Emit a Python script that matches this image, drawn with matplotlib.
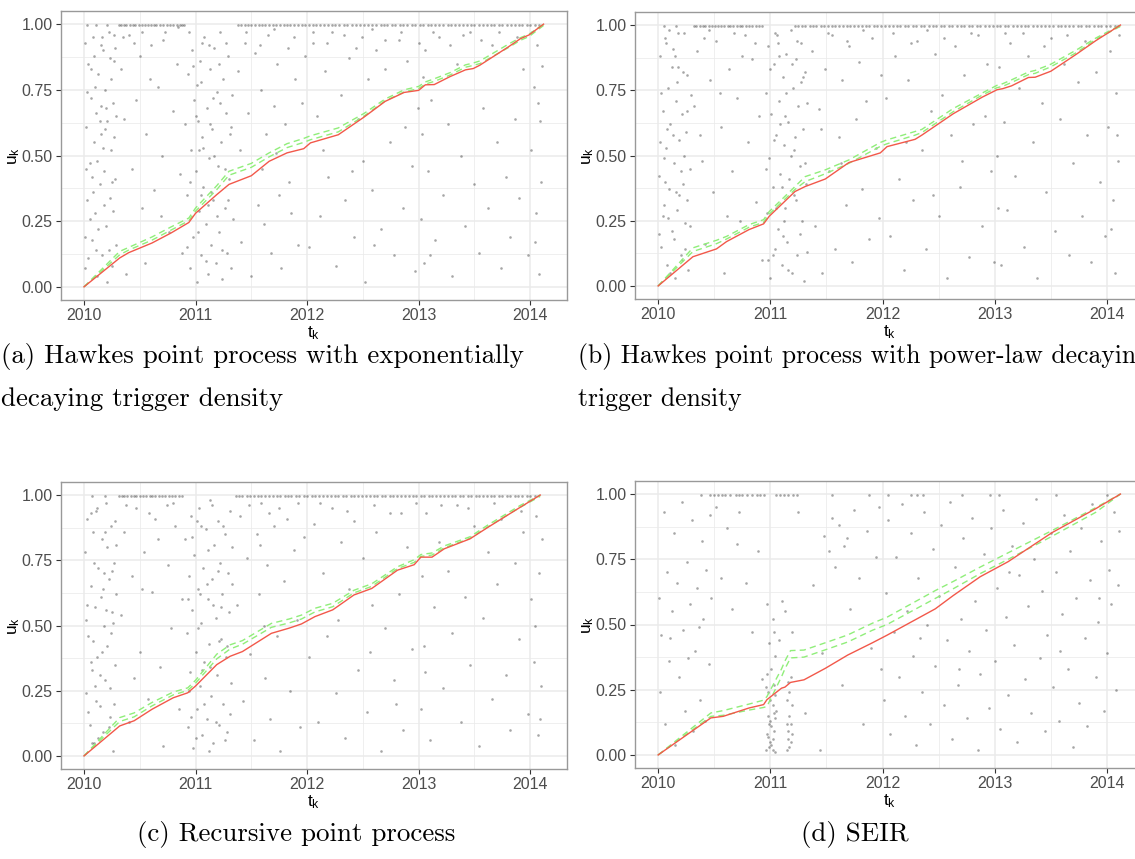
import numpy as np
import matplotlib
matplotlib.use("Agg")
import matplotlib.pyplot as plt

plt.rcParams['font.family'] = ['Liberation Sans', 'DejaVu Sans']
plt.rcParams['mathtext.fontset'] = 'custom'
plt.rcParams['mathtext.rm'] = 'Liberation Sans'
plt.rcParams['mathtext.it'] = 'Liberation Sans:italic'

# ---- red line (empirical) and green dashed band, per panel ----
knots_a = [2010.0, 2010.32, 2010.40, 2010.61, 2010.78, 2010.94, 2011.0, 2011.19, 2011.30, 2011.50, 2011.66,
           2011.82, 2011.97, 2012.03, 2012.28, 2012.51, 2012.70, 2012.87, 2013.0, 2013.06, 2013.14, 2013.28,
           2013.42, 2013.49, 2013.55, 2013.81, 2013.91, 2013.99, 2014.12]
red_a = [0.0, 0.11, 0.13, 0.167, 0.205, 0.245, 0.28, 0.351, 0.39, 0.423, 0.478,
         0.51, 0.526, 0.548, 0.579, 0.646, 0.706, 0.74, 0.748, 0.769, 0.77, 0.80,
         0.826, 0.831, 0.844, 0.915, 0.944, 0.959, 1.0]
hi_a = [0.0, 0.135, 0.15, 0.19, 0.228, 0.262, 0.30, 0.385, 0.44, 0.47, 0.51,
        0.545, 0.565, 0.575, 0.605, 0.66, 0.715, 0.75, 0.763, 0.78, 0.792, 0.815,
        0.845, 0.852, 0.86, 0.925, 0.948, 0.962, 1.0]
lo_a = [0.0, 0.122, 0.14, 0.178, 0.216, 0.252, 0.288, 0.37, 0.425, 0.455, 0.495,
        0.53, 0.55, 0.56, 0.59, 0.65, 0.708, 0.742, 0.755, 0.772, 0.782, 0.806,
        0.836, 0.843, 0.85, 0.912, 0.938, 0.953, 0.995]

knots_b = [2010.0, 2010.31, 2010.52, 2010.61, 2010.81, 2010.94, 2010.99, 2011.22, 2011.31, 2011.49, 2011.70,
           2011.98, 2012.04, 2012.29, 2012.35, 2012.63, 2012.89, 2013.02, 2013.07, 2013.15, 2013.30, 2013.36,
           2013.50, 2013.73, 2013.90, 2014.12]
red_b = [0.0, 0.112, 0.142, 0.17, 0.216, 0.238, 0.267, 0.362, 0.381, 0.41, 0.473,
         0.51, 0.534, 0.562, 0.578, 0.66, 0.724, 0.752, 0.756, 0.767, 0.799, 0.80,
         0.823, 0.889, 0.94, 1.0]
hi_b = [0.0, 0.146, 0.175, 0.19, 0.235, 0.254, 0.285, 0.381, 0.419, 0.445, 0.483,
        0.55, 0.56, 0.592, 0.60, 0.68, 0.74, 0.769, 0.775, 0.79, 0.82, 0.826,
        0.85, 0.905, 0.95, 1.0]
lo_b = [0.0, 0.132, 0.162, 0.18, 0.225, 0.244, 0.275, 0.37, 0.40, 0.43, 0.47,
        0.535, 0.545, 0.578, 0.588, 0.668, 0.732, 0.76, 0.765, 0.78, 0.81, 0.815,
        0.84, 0.895, 0.945, 0.995]

knots_c = [2010.0, 2010.32, 2010.45, 2010.61, 2010.80, 2010.93, 2011.0, 2011.19, 2011.31, 2011.42, 2011.68,
           2011.84, 2011.95, 2012.07, 2012.23, 2012.42, 2012.58, 2012.81, 2012.96, 2013.02, 2013.12, 2013.23,
           2013.46, 2013.62, 2013.91, 2014.09]
red_c = [0.0, 0.115, 0.135, 0.179, 0.223, 0.242, 0.268, 0.35, 0.382, 0.40, 0.47,
         0.49, 0.506, 0.534, 0.56, 0.617, 0.642, 0.712, 0.733, 0.762, 0.762, 0.794,
         0.832, 0.876, 0.953, 1.0]
hi_c = [0.0, 0.147, 0.165, 0.205, 0.245, 0.261, 0.29, 0.39, 0.426, 0.442, 0.508,
        0.525, 0.54, 0.566, 0.585, 0.635, 0.66, 0.725, 0.752, 0.772, 0.778, 0.805,
        0.84, 0.885, 0.96, 1.0]
lo_c = [0.0, 0.132, 0.15, 0.192, 0.234, 0.251, 0.279, 0.372, 0.41, 0.428, 0.493,
        0.51, 0.525, 0.552, 0.572, 0.625, 0.65, 0.718, 0.742, 0.765, 0.77, 0.798,
        0.834, 0.878, 0.953, 0.995]

knots_d = [2010.0, 2010.47, 2010.58, 2010.81, 2010.94, 2010.97, 2011.10, 2011.13, 2011.18, 2011.30, 2011.49,
           2011.69, 2011.91, 2012.04, 2012.47, 2012.63, 2012.87, 2013.12, 2013.51, 2013.90, 2014.12]
red_d = [0.0, 0.142, 0.148, 0.18, 0.193, 0.212, 0.256, 0.26, 0.278, 0.288, 0.332,
         0.383, 0.43, 0.459, 0.56, 0.611, 0.683, 0.741, 0.852, 0.944, 1.0]
hi_d = [0.0, 0.161, 0.17, 0.195, 0.21, 0.224, 0.33, 0.36, 0.40, 0.402, 0.43,
        0.46, 0.505, 0.528, 0.63, 0.665, 0.72, 0.775, 0.86, 0.948, 1.0]
lo_d = [0.0, 0.148, 0.152, 0.172, 0.182, 0.186, 0.30, 0.33, 0.372, 0.375, 0.403,
        0.433, 0.478, 0.50, 0.60, 0.637, 0.695, 0.75, 0.838, 0.93, 1.0]

# ---- scattered (t_k, u_k) points ----
pts_a = [
    (2010.01, 0.93), (2010.02, 0.61), (2010.03, 0.33), (2010.01, 0.07), (2010.04, 0.85), (2010.05, 0.47),
    (2010.06, 0.72), (2010.07, 0.18), (2010.08, 0.95), (2010.09, 0.55), (2010.10, 0.28), (2010.11, 0.66),
    (2010.12, 0.04), (2010.13, 0.81), (2010.14, 0.39), (2010.15, 0.58), (2010.16, 0.12), (2010.17, 0.90),
    (2010.18, 0.44), (2010.19, 0.75), (2010.20, 0.23), (2010.21, 0.63), (2010.22, 0.97), (2010.23, 0.34),
    (2010.24, 0.52), (2010.25, 0.08), (2010.26, 0.70), (2010.27, 0.86), (2010.28, 0.41), (2010.29, 0.16),
    (2010.05, 0.26), (2010.12, 0.48), (2010.18, 0.31), (2010.24, 0.79), (2010.09, 0.88), (2010.15, 0.69),
    (2010.21, 0.02), (2010.27, 0.57), (2010.03, 0.74), (2010.16, 0.95), (2010.26, 0.29), (2010.07, 0.42),
    (2010.19, 0.60), (2010.11, 0.14), (2010.28, 0.91),
    (2010.02, 0.45), (2010.04, 0.11), (2010.06, 0.83), (2010.08, 0.36), (2010.10, 0.76), (2010.13, 0.22),
    (2010.15, 0.92), (2010.17, 0.53), (2010.20, 0.68), (2010.22, 0.14), (2010.25, 0.40), (2010.27, 0.96),
    (2010.29, 0.65), (2010.01, 0.19), (2010.14, 0.63), (2010.23, 0.87),
    (2010.33, 0.83), (2010.36, 0.64), (2010.40, 0.96), (2010.43, 0.45), (2010.47, 0.71), (2010.50, 0.88),
    (2010.52, 0.30), (2010.56, 0.58), (2010.60, 0.92), (2010.63, 0.37), (2010.66, 0.76), (2010.70, 0.50),
    (2010.73, 0.97), (2010.76, 0.21), (2010.80, 0.67), (2010.83, 0.85), (2010.86, 0.43), (2010.88, 0.13),
    (2010.38, 0.05), (2010.55, 0.09), (2010.69, 0.27), (2010.84, 0.99), (2010.45, 0.93), (2010.59, 0.79),
    (2010.35, 0.95), (2010.52, 0.97), (2010.71, 0.94),
    (2010.91, 0.62), (2010.92, 0.35), (2010.93, 0.81), (2010.95, 0.07), (2010.96, 0.52), (2010.97, 0.90),
    (2010.98, 0.19), (2010.99, 0.71), (2011.00, 0.44), (2011.01, 0.02), (2011.02, 0.63), (2011.03, 0.29),
    (2011.04, 0.86), (2011.05, 0.12), (2011.06, 0.57), (2011.07, 0.38), (2011.08, 0.95), (2011.09, 0.24),
    (2011.10, 0.68), (2011.11, 0.05), (2011.12, 0.49), (2011.13, 0.83), (2011.14, 0.16), (2011.15, 0.60),
    (2011.16, 0.33), (2011.17, 0.91), (2011.18, 0.09), (2011.19, 0.74), (2011.20, 0.46), (2011.21, 0.21),
    (2011.22, 0.97), (2011.23, 0.55), (2011.24, 0.03), (2011.25, 0.79), (2011.26, 0.30), (2011.27, 0.66),
    (2011.28, 0.13), (2011.29, 0.88), (2011.30, 0.41), (2011.31, 0.58), (2011.32, 0.07), (2011.33, 0.73),
    (2011.34, 0.26), (2010.94, 0.97), (2011.01, 0.77), (2011.06, 0.93), (2011.11, 0.31), (2011.16, 0.72),
    (2011.21, 0.85), (2011.26, 0.45), (2011.03, 0.52), (2011.13, 0.62),
    (2010.92, 0.15), (2010.95, 0.40), (2010.98, 0.84), (2011.00, 0.65), (2011.02, 0.21), (2011.05, 0.78),
    (2011.07, 0.53), (2011.09, 0.10), (2011.12, 0.92), (2011.14, 0.36), (2011.17, 0.50), (2011.19, 0.27),
    (2011.22, 0.70), (2011.24, 0.14), (2011.27, 0.93), (2011.29, 0.33), (2011.32, 0.61), (2011.05, 0.35),
    (2011.38, 0.82), (2011.41, 0.17), (2011.44, 0.93), (2011.47, 0.66), (2011.50, 0.04), (2011.53, 0.89),
    (2011.56, 0.31), (2011.59, 0.75), (2011.61, 0.24), (2011.63, 0.58), (2011.65, 0.96), (2011.68, 0.13),
    (2011.70, 0.69), (2011.73, 0.85), (2011.75, 0.35), (2011.77, 0.07), (2011.80, 0.62), (2011.83, 0.91),
    (2011.86, 0.28), (2011.89, 0.79), (2011.92, 0.16), (2011.95, 0.70), (2011.98, 0.88), (2011.60, 0.45),
    (2011.72, 0.51), (2011.40, 0.52), (2011.84, 0.40), (2011.45, 0.97), (2011.58, 0.92), (2011.70, 0.98),
    (2011.88, 0.95),
    (2012.02, 0.15), (2012.05, 0.93), (2012.09, 0.65), (2012.12, 0.27), (2012.16, 0.82), (2012.19, 0.42),
    (2012.22, 0.97), (2012.26, 0.08), (2012.30, 0.73), (2012.34, 0.33), (2012.38, 0.87), (2012.42, 0.19),
    (2012.46, 0.64), (2012.49, 0.95), (2012.50, 0.48), (2012.52, 0.02), (2012.55, 0.79), (2012.58, 0.37),
    (2012.62, 0.90), (2012.66, 0.22), (2012.70, 0.83), (2012.74, 0.55), (2012.78, 0.12), (2012.82, 0.94),
    (2012.86, 0.30), (2012.90, 0.86), (2012.94, 0.46), (2012.97, 0.06), (2012.99, 0.68), (2012.14, 0.52),
    (2012.40, 0.44), (2012.60, 0.16), (2012.88, 0.61), (2012.05, 0.97), (2012.18, 0.93), (2012.33, 0.96),
    (2012.44, 0.91), (2012.58, 0.98), (2012.70, 0.94), (2012.84, 0.97),
    (2013.02, 0.26), (2013.03, 0.58), (2013.05, 0.09), (2013.06, 0.90), (2013.08, 0.44), (2013.11, 0.71),
    (2013.15, 0.18), (2013.18, 0.95), (2013.22, 0.35), (2013.26, 0.62), (2013.30, 0.04), (2013.34, 0.85),
    (2013.38, 0.50), (2013.42, 0.23), (2013.46, 0.97), (2013.50, 0.39), (2013.54, 0.13), (2013.58, 0.68),
    (2013.62, 0.30), (2013.66, 0.92), (2013.70, 0.55), (2013.74, 0.07), (2013.78, 0.42), (2013.82, 0.19),
    (2013.86, 0.64), (2013.90, 0.34), (2013.94, 0.83), (2013.98, 0.12), (2014.01, 0.52), (2014.03, 0.76),
    (2014.05, 0.28), (2014.06, 0.92), (2014.08, 0.05), (2014.09, 0.63), (2014.10, 0.40), (2014.11, 0.84),
    (2014.04, 0.17), (2014.07, 0.70), (2013.04, 0.80), (2013.10, 0.12), (2013.00, 0.93), (2013.13, 0.97),
    (2013.28, 0.92), (2013.40, 0.96), (2013.56, 0.94), (2013.72, 0.97), (2013.88, 0.95), (2014.02, 0.97),
]
top_a = [2010.03, 2010.11, 2010.21, 2010.31, 2010.33, 2010.36, 2010.38, 2010.41, 2010.44, 2010.46, 2010.49,
         2010.52, 2010.55, 2010.57, 2010.60, 2010.63, 2010.65, 2010.68, 2010.71, 2010.74, 2010.77, 2010.80,
         2010.83, 2010.86, 2010.88, 2010.90, 2011.38, 2011.41, 2011.44, 2011.47, 2011.50, 2011.53, 2011.57,
         2011.60, 2011.62, 2011.66, 2011.69, 2011.72, 2011.76, 2011.79, 2011.82, 2011.85, 2011.88, 2011.92,
         2011.95, 2011.98, 2012.02, 2012.05, 2012.08, 2012.12, 2012.15, 2012.19, 2012.22, 2012.25, 2012.29,
         2012.33, 2012.36, 2012.40, 2012.44, 2012.47, 2012.51, 2012.55, 2012.58, 2012.62, 2012.66, 2012.69,
         2012.72, 2012.76, 2012.79, 2012.83, 2012.86, 2012.90, 2012.94, 2012.97, 2013.01, 2013.04, 2013.08,
         2013.11, 2013.15, 2013.18, 2013.22, 2013.26, 2013.29, 2013.33, 2013.36, 2013.40, 2013.43, 2013.47,
         2013.50, 2013.54, 2013.58, 2013.61, 2013.65, 2013.68, 2013.72, 2013.75, 2013.79, 2013.83, 2013.86,
         2013.90, 2013.93, 2013.97, 2014.00, 2014.04, 2014.08]

pts_b = [
    (2010.01, 0.42), (2010.02, 0.88), (2010.03, 0.15), (2010.04, 0.67), (2010.05, 0.31), (2010.06, 0.95),
    (2010.07, 0.53), (2010.08, 0.08), (2010.09, 0.76), (2010.10, 0.37), (2010.11, 0.62), (2010.12, 0.21),
    (2010.13, 0.91), (2010.14, 0.47), (2010.15, 0.03), (2010.16, 0.71), (2010.17, 0.29), (2010.18, 0.84),
    (2010.19, 0.56), (2010.20, 0.12), (2010.21, 0.66), (2010.22, 0.39), (2010.23, 0.97), (2010.24, 0.24),
    (2010.25, 0.59), (2010.26, 0.81), (2010.27, 0.06), (2010.28, 0.45), (2010.29, 0.73), (2010.04, 0.27),
    (2010.10, 0.98), (2010.14, 0.18), (2010.19, 0.35), (2010.23, 0.50), (2010.08, 0.60), (2010.17, 0.78),
    (2010.26, 0.33), (2010.02, 0.55), (2010.12, 0.84), (2010.21, 0.10),
    (2010.01, 0.20), (2010.03, 0.74), (2010.05, 0.49), (2010.07, 0.93), (2010.09, 0.26), (2010.11, 0.05),
    (2010.13, 0.58), (2010.16, 0.36), (2010.18, 0.97), (2010.20, 0.44), (2010.22, 0.82), (2010.24, 0.14),
    (2010.26, 0.67), (2010.28, 0.23), (2010.06, 0.40), (2010.15, 0.88),
    (2010.32, 0.69), (2010.35, 0.90), (2010.39, 0.48), (2010.42, 0.16), (2010.46, 0.79), (2010.49, 0.36),
    (2010.52, 0.94), (2010.56, 0.61), (2010.59, 0.05), (2010.63, 0.83), (2010.66, 0.44), (2010.70, 0.72),
    (2010.73, 0.25), (2010.77, 0.96), (2010.80, 0.55), (2010.84, 0.87), (2010.87, 0.32), (2010.90, 0.65),
    (2010.93, 0.10), (2010.37, 0.58), (2010.61, 0.27), (2010.75, 0.88), (2010.45, 0.98), (2010.55, 0.74),
    (2010.41, 0.95), (2010.68, 0.97), (2010.86, 0.93),
    (2010.96, 0.74), (2010.97, 0.28), (2010.98, 0.92), (2010.99, 0.49), (2011.00, 0.03), (2011.01, 0.66),
    (2011.02, 0.38), (2011.03, 0.85), (2011.04, 0.14), (2011.05, 0.58), (2011.06, 0.96), (2011.07, 0.22),
    (2011.08, 0.71), (2011.09, 0.43), (2011.10, 0.08), (2011.11, 0.80), (2011.12, 0.54), (2011.13, 0.30),
    (2011.14, 0.89), (2011.15, 0.17), (2011.16, 0.63), (2011.17, 0.41), (2011.18, 0.98), (2011.19, 0.05),
    (2011.20, 0.76), (2011.21, 0.35), (2011.22, 0.57), (2011.23, 0.87), (2011.24, 0.12), (2011.25, 0.69),
    (2011.26, 0.46), (2011.27, 0.93), (2011.28, 0.25), (2011.29, 0.60), (2011.30, 0.02), (2011.31, 0.82),
    (2011.32, 0.39), (2011.33, 0.70), (2011.02, 0.12), (2011.08, 0.88), (2011.13, 0.65), (2011.18, 0.50),
    (2011.23, 0.33), (2011.04, 0.97), (2011.11, 0.19), (2011.27, 0.78),
    (2010.96, 0.45), (2010.98, 0.10), (2011.00, 0.83), (2011.03, 0.56), (2011.05, 0.30), (2011.07, 0.93),
    (2011.09, 0.62), (2011.12, 0.25), (2011.14, 0.74), (2011.16, 0.06), (2011.19, 0.85), (2011.21, 0.52),
    (2011.24, 0.94), (2011.26, 0.20), (2011.29, 0.80), (2011.31, 0.47), (2011.33, 0.13), (2011.10, 0.38),
    (2011.37, 0.90), (2011.40, 0.23), (2011.43, 0.68), (2011.46, 0.05), (2011.49, 0.83), (2011.52, 0.44),
    (2011.55, 0.96), (2011.58, 0.14), (2011.61, 0.57), (2011.64, 0.79), (2011.67, 0.31), (2011.70, 0.92),
    (2011.73, 0.09), (2011.76, 0.64), (2011.79, 0.86), (2011.82, 0.37), (2011.85, 0.71), (2011.88, 0.18),
    (2011.91, 0.95), (2011.94, 0.53), (2011.97, 0.26), (2011.99, 0.81), (2011.63, 0.47), (2011.45, 0.60),
    (2011.51, 0.97), (2011.68, 0.94), (2011.83, 0.98),
    (2012.03, 0.72), (2012.07, 0.19), (2012.11, 0.88), (2012.15, 0.41), (2012.19, 0.06), (2012.23, 0.79),
    (2012.27, 0.33), (2012.31, 0.94), (2012.35, 0.52), (2012.39, 0.14), (2012.43, 0.67), (2012.47, 0.89),
    (2012.50, 0.27), (2012.53, 0.73), (2012.57, 0.03), (2012.61, 0.58), (2012.65, 0.92), (2012.69, 0.38),
    (2012.73, 0.81), (2012.77, 0.11), (2012.81, 0.62), (2012.85, 0.96), (2012.89, 0.23), (2012.93, 0.85),
    (2012.97, 0.44), (2012.99, 0.09), (2012.21, 0.55), (2012.45, 0.35), (2012.71, 0.48), (2012.91, 0.65),
    (2012.09, 0.97), (2012.25, 0.93), (2012.40, 0.98), (2012.55, 0.95), (2012.79, 0.97),
    (2013.02, 0.50), (2013.04, 0.84), (2013.06, 0.08), (2013.08, 0.63), (2013.11, 0.29), (2013.14, 0.93),
    (2013.18, 0.42), (2013.22, 0.76), (2013.26, 0.15), (2013.30, 0.88), (2013.34, 0.55), (2013.38, 0.03),
    (2013.42, 0.70), (2013.46, 0.36), (2013.50, 0.95), (2013.54, 0.21), (2013.58, 0.64), (2013.62, 0.85),
    (2013.66, 0.12), (2013.70, 0.47), (2013.74, 0.78), (2013.78, 0.27), (2013.82, 0.58), (2013.86, 0.09),
    (2013.90, 0.82), (2013.94, 0.40), (2013.98, 0.19), (2014.01, 0.61), (2014.03, 0.90), (2014.05, 0.33),
    (2014.07, 0.05), (2014.08, 0.74), (2014.10, 0.48), (2014.11, 0.96), (2014.04, 0.22), (2014.09, 0.58),
    (2013.03, 0.30), (2013.09, 0.97), (2013.25, 0.97), (2013.44, 0.92), (2013.64, 0.96), (2013.80, 0.94),
]
top_b = [2010.05, 2010.16, 2010.32, 2010.34, 2010.37, 2010.40, 2010.42, 2010.45, 2010.48, 2010.51, 2010.53,
         2010.56, 2010.59, 2010.62, 2010.64, 2010.67, 2010.70, 2010.73, 2010.75, 2010.78, 2010.81, 2010.84,
         2010.87, 2010.90, 2010.93, 2011.22, 2011.25, 2011.28, 2011.31, 2011.35, 2011.38, 2011.41, 2011.45,
         2011.48, 2011.51, 2011.55, 2011.58, 2011.61, 2011.65, 2011.68, 2011.71, 2011.75, 2011.78, 2011.82,
         2011.85, 2011.88, 2011.92, 2011.95, 2011.99, 2012.02, 2012.06, 2012.09, 2012.13, 2012.16, 2012.20,
         2012.23, 2012.27, 2012.30, 2012.34, 2012.37, 2012.41, 2012.45, 2012.48, 2012.52, 2012.55, 2012.59,
         2012.62, 2012.66, 2012.70, 2012.73, 2012.77, 2012.80, 2012.84, 2012.87, 2012.91, 2012.95, 2012.98,
         2013.02, 2013.05, 2013.09, 2013.12, 2013.16, 2013.20, 2013.23, 2013.27, 2013.30, 2013.34, 2013.38,
         2013.41, 2013.45, 2013.48, 2013.52, 2013.56, 2013.59, 2013.63, 2013.66, 2013.70, 2013.74, 2013.77,
         2013.81, 2013.84, 2013.88, 2013.92, 2013.95, 2013.99, 2014.03, 2014.07, 2014.10]

pts_c = [
    (2010.01, 0.78), (2010.02, 0.24), (2010.03, 0.91), (2010.04, 0.46), (2010.05, 0.12), (2010.06, 0.65),
    (2010.07, 0.33), (2010.08, 0.86), (2010.09, 0.05), (2010.10, 0.57), (2010.11, 0.94), (2010.12, 0.38),
    (2010.13, 0.72), (2010.14, 0.19), (2010.15, 0.61), (2010.16, 0.83), (2010.17, 0.09), (2010.18, 0.50),
    (2010.19, 0.29), (2010.20, 0.97), (2010.21, 0.42), (2010.22, 0.68), (2010.23, 0.15), (2010.24, 0.88),
    (2010.25, 0.55), (2010.26, 0.02), (2010.27, 0.74), (2010.28, 0.35), (2010.29, 0.62), (2010.06, 0.93),
    (2010.11, 0.21), (2010.16, 0.40), (2010.21, 0.80), (2010.26, 0.51), (2010.03, 0.58), (2010.13, 0.07),
    (2010.18, 0.70), (2010.23, 0.26), (2010.08, 0.44), (2010.28, 0.90),
    (2010.02, 0.52), (2010.04, 0.17), (2010.06, 0.36), (2010.09, 0.74), (2010.12, 0.95), (2010.14, 0.31),
    (2010.17, 0.64), (2010.19, 0.86), (2010.22, 0.11), (2010.24, 0.47), (2010.27, 0.20), (2010.29, 0.81),
    (2010.10, 0.27), (2010.20, 0.56), (2010.25, 0.71), (2010.07, 0.05),
    (2010.33, 0.54), (2010.36, 0.86), (2010.40, 0.13), (2010.43, 0.69), (2010.47, 0.95), (2010.50, 0.40),
    (2010.54, 0.78), (2010.57, 0.22), (2010.61, 0.63), (2010.64, 0.91), (2010.68, 0.34), (2010.71, 0.04),
    (2010.75, 0.73), (2010.78, 0.49), (2010.82, 0.88), (2010.85, 0.18), (2010.88, 0.60), (2010.45, 0.30),
    (2010.66, 0.83), (2010.80, 0.97), (2010.52, 0.64), (2010.38, 0.96), (2010.58, 0.93), (2010.74, 0.96),
    (2010.91, 0.83), (2010.92, 0.47), (2010.93, 0.11), (2010.94, 0.69), (2010.95, 0.32), (2010.96, 0.92),
    (2010.97, 0.56), (2010.98, 0.03), (2010.99, 0.77), (2011.00, 0.40), (2011.01, 0.18), (2011.02, 0.64),
    (2011.03, 0.95), (2011.04, 0.27), (2011.05, 0.51), (2011.06, 0.08), (2011.07, 0.72), (2011.08, 0.36),
    (2011.09, 0.87), (2011.10, 0.14), (2011.11, 0.60), (2011.12, 0.43), (2011.13, 0.98), (2011.14, 0.23),
    (2011.15, 0.68), (2011.16, 0.05), (2011.17, 0.81), (2011.18, 0.53), (2011.19, 0.31), (2011.20, 0.90),
    (2011.21, 0.12), (2011.22, 0.74), (2011.23, 0.45), (2011.24, 0.62), (2011.25, 0.20), (2011.26, 0.85),
    (2011.27, 0.38), (2011.28, 0.09), (2011.29, 0.70), (2011.30, 0.55), (2011.31, 0.94), (2011.32, 0.28),
    (2011.33, 0.66), (2010.96, 0.15), (2011.01, 0.90), (2011.06, 0.33), (2011.11, 0.79), (2011.16, 0.58),
    (2011.21, 0.44), (2011.26, 0.06), (2010.93, 0.60),
    (2010.94, 0.25), (2010.97, 0.84), (2011.00, 0.07), (2011.02, 0.49), (2011.05, 0.88), (2011.08, 0.20),
    (2011.10, 0.66), (2011.13, 0.34), (2011.15, 0.96), (2011.18, 0.13), (2011.20, 0.71), (2011.23, 0.57),
    (2011.25, 0.88), (2011.28, 0.42), (2011.31, 0.16), (2011.33, 0.80), (2011.04, 0.62), (2011.12, 0.02),
    (2011.37, 0.58), (2011.40, 0.92), (2011.43, 0.21), (2011.46, 0.76), (2011.49, 0.39), (2011.52, 0.06),
    (2011.55, 0.85), (2011.57, 0.62), (2011.59, 0.97), (2011.62, 0.30), (2011.64, 0.73), (2011.67, 0.14),
    (2011.70, 0.88), (2011.73, 0.46), (2011.76, 0.02), (2011.79, 0.67), (2011.82, 0.91), (2011.85, 0.25),
    (2011.88, 0.79), (2011.91, 0.52), (2011.94, 0.11), (2011.97, 0.84), (2011.58, 0.81), (2011.61, 0.50),
    (2011.66, 0.93), (2011.48, 0.96), (2011.75, 0.95), (2011.92, 0.97),
    (2012.02, 0.38), (2012.06, 0.89), (2012.10, 0.13), (2012.14, 0.70), (2012.18, 0.46), (2012.22, 0.95),
    (2012.26, 0.24), (2012.30, 0.82), (2012.34, 0.07), (2012.38, 0.64), (2012.42, 0.90), (2012.46, 0.33),
    (2012.50, 0.76), (2012.54, 0.17), (2012.58, 0.58), (2012.62, 0.86), (2012.66, 0.02), (2012.70, 0.49),
    (2012.74, 0.93), (2012.78, 0.29), (2012.82, 0.62), (2012.86, 0.10), (2012.90, 0.80), (2012.94, 0.41),
    (2012.98, 0.97), (2012.28, 0.52), (2012.56, 0.40), (2012.80, 0.20), (2012.12, 0.97), (2012.36, 0.94),
    (2012.60, 0.96), (2012.84, 0.93),
    (2013.02, 0.18), (2013.03, 0.69), (2013.05, 0.42), (2013.07, 0.93), (2013.10, 0.06), (2013.14, 0.57),
    (2013.18, 0.82), (2013.22, 0.26), (2013.26, 0.71), (2013.30, 0.47), (2013.34, 0.96), (2013.38, 0.13),
    (2013.42, 0.61), (2013.46, 0.35), (2013.50, 0.88), (2013.54, 0.04), (2013.58, 0.53), (2013.62, 0.78),
    (2013.66, 0.22), (2013.70, 0.66), (2013.74, 0.91), (2013.78, 0.31), (2013.82, 0.10), (2013.86, 0.74),
    (2013.90, 0.45), (2013.94, 0.86), (2013.98, 0.16), (2014.01, 0.60), (2014.03, 0.36), (2014.05, 0.92),
    (2014.07, 0.08), (2014.08, 0.70), (2014.10, 0.27), (2014.11, 0.83), (2014.04, 0.50), (2014.09, 0.14),
    (2013.06, 0.32), (2013.20, 0.96), (2013.44, 0.95), (2013.68, 0.97), (2013.92, 0.94),
]
top_c = [2010.07, 2010.19, 2010.31, 2010.34, 2010.36, 2010.39, 2010.42, 2010.45, 2010.47, 2010.50, 2010.53,
         2010.56, 2010.59, 2010.61, 2010.64, 2010.67, 2010.70, 2010.73, 2010.76, 2010.79, 2010.82, 2010.85,
         2010.88, 2011.36, 2011.39, 2011.42, 2011.46, 2011.49, 2011.52, 2011.56, 2011.59, 2011.62, 2011.66,
         2011.69, 2011.73, 2011.76, 2011.80, 2011.83, 2011.86, 2011.90, 2011.93, 2011.97, 2012.00, 2012.04,
         2012.07, 2012.11, 2012.14, 2012.18, 2012.21, 2012.25, 2012.28, 2012.32, 2012.35, 2012.39, 2012.42,
         2012.46, 2012.49, 2012.53, 2012.56, 2012.60, 2012.63, 2012.67, 2012.70, 2012.74, 2012.77, 2012.81,
         2012.84, 2012.88, 2012.91, 2012.95, 2012.98, 2013.02, 2013.05, 2013.09, 2013.12, 2013.16, 2013.19,
         2013.23, 2013.26, 2013.30, 2013.33, 2013.37, 2013.40, 2013.44, 2013.47, 2013.51, 2013.54, 2013.58,
         2013.61, 2013.65, 2013.68, 2013.72, 2013.75, 2013.79, 2013.82, 2013.86, 2013.89, 2013.93, 2013.97,
         2014.00, 2014.04]

pts_d = [
    (2010.01, 0.60), (2010.02, 0.24), (2010.03, 0.46), (2010.05, 0.93), (2010.06, 0.12), (2010.08, 0.70),
    (2010.10, 0.36), (2010.12, 0.55), (2010.14, 0.85), (2010.15, 0.04), (2010.17, 0.66), (2010.19, 0.30),
    (2010.21, 0.97), (2010.22, 0.48), (2010.24, 0.17), (2010.26, 0.74), (2010.28, 0.58), (2010.30, 0.90),
    (2010.31, 0.09), (2010.33, 0.40), (2010.35, 0.64), (2010.37, 0.21), (2010.39, 0.82), (2010.40, 0.52),
    (2010.42, 0.13), (2010.43, 0.71), (2010.45, 0.35), (2010.46, 0.92), (2010.47, 0.60), (2010.11, 0.45),
    (2010.27, 0.37), (2010.36, 0.49),
    (2010.52, 0.95), (2010.56, 0.68), (2010.61, 0.87), (2010.66, 0.56), (2010.72, 0.93), (2010.78, 0.66),
    (2010.84, 0.47), (2010.89, 0.78), (2010.93, 0.29), (2010.70, 0.81),
    (2010.96, 0.02), (2010.97, 0.08), (2010.98, 0.15), (2010.99, 0.03), (2011.00, 0.21), (2011.01, 0.11),
    (2011.02, 0.06), (2011.03, 0.27), (2011.04, 0.01), (2011.05, 0.17), (2010.97, 0.31), (2010.98, 0.24),
    (2010.99, 0.12), (2011.00, 0.05), (2011.01, 0.33), (2011.02, 0.19), (2011.03, 0.09), (2011.04, 0.14),
    (2010.96, 0.26), (2011.00, 0.13), (2011.02, 0.02), (2011.04, 0.23), (2010.98, 0.07), (2011.01, 0.04),
    (2011.03, 0.16), (2010.99, 0.43), (2011.02, 0.52), (2011.04, 0.38), (2010.97, 0.58), (2011.03, 0.47),
    (2011.15, 0.02), (2011.16, 0.09), (2011.17, 0.15), (2011.18, 0.05), (2011.15, 0.21), (2011.16, 0.28),
    (2011.17, 0.03), (2011.18, 0.12), (2011.19, 0.19), (2011.16, 0.06), (2011.17, 0.24), (2011.18, 0.30),
    (2011.15, 0.12), (2011.19, 0.08), (2011.08, 0.44), (2011.10, 0.59), (2011.13, 0.55), (2011.19, 0.47),
    (2011.25, 0.93), (2011.31, 0.16), (2011.38, 0.65), (2011.44, 0.02), (2011.48, 0.84), (2011.52, 0.78),
    (2011.55, 0.91), (2011.58, 0.72), (2011.61, 0.88), (2011.64, 0.27), (2011.68, 0.83), (2011.71, 0.56),
    (2011.75, 0.94), (2011.79, 0.68), (2011.83, 0.12), (2011.86, 0.86), (2011.90, 0.41), (2011.94, 0.76),
    (2011.97, 0.95), (2011.99, 0.33), (2011.66, 0.80), (2011.46, 0.39),
    (2012.01, 0.21), (2012.03, 0.62), (2012.05, 0.90), (2012.07, 0.08), (2012.10, 0.47), (2012.12, 0.76),
    (2012.15, 0.30), (2012.17, 0.96), (2012.20, 0.15), (2012.22, 0.55), (2012.25, 0.85), (2012.27, 0.38),
    (2012.30, 0.04), (2012.32, 0.68), (2012.35, 0.24), (2012.37, 0.93), (2012.40, 0.50), (2012.42, 0.12),
    (2012.45, 0.79), (2012.47, 0.34), (2012.50, 0.61), (2012.52, 0.88), (2012.55, 0.19), (2012.57, 0.44),
    (2012.60, 0.97), (2012.62, 0.06), (2012.65, 0.72), (2012.67, 0.27), (2012.70, 0.52), (2012.72, 0.83),
    (2012.75, 0.14), (2012.77, 0.40), (2012.80, 0.91), (2012.82, 0.59), (2012.85, 0.02), (2012.87, 0.31),
    (2012.90, 0.77), (2012.92, 0.48), (2012.95, 0.18), (2012.97, 0.87), (2013.00, 0.36), (2013.02, 0.64),
    (2013.05, 0.10), (2013.07, 0.94), (2013.10, 0.53), (2013.12, 0.23), (2013.15, 0.80), (2013.17, 0.42),
    (2013.20, 0.05), (2013.22, 0.69), (2013.25, 0.89), (2013.27, 0.29), (2013.30, 0.57), (2013.32, 0.16),
    (2013.35, 0.75), (2013.37, 0.98), (2013.40, 0.37), (2013.42, 0.63), (2013.45, 0.09), (2013.47, 0.46),
    (2013.50, 0.85), (2013.52, 0.26), (2013.55, 0.70), (2013.57, 0.13), (2013.60, 0.54), (2013.62, 0.92),
    (2013.65, 0.33), (2013.67, 0.78), (2013.70, 0.03), (2013.72, 0.60), (2013.75, 0.20), (2013.77, 0.87),
    (2013.80, 0.45), (2013.82, 0.11), (2013.85, 0.67), (2013.87, 0.96), (2013.90, 0.30), (2013.92, 0.51),
    (2013.95, 0.82), (2013.97, 0.17), (2014.00, 0.39), (2014.02, 0.71), (2014.04, 0.58), (2014.06, 0.93),
    (2014.08, 0.25), (2014.10, 0.65), (2014.11, 0.86), (2012.33, 0.45), (2012.68, 0.33), (2013.13, 0.70),
    (2013.58, 0.40), (2013.93, 0.60),
]
top_d = [2010.38, 2010.46, 2010.50, 2010.53, 2010.57, 2010.60, 2010.64, 2010.69, 2010.72, 2010.75, 2010.79,
         2010.84, 2010.88, 2010.91, 2010.94, 2011.05, 2011.09, 2011.12, 2011.16, 2011.20, 2011.24, 2011.55,
         2011.88, 2012.05, 2012.25, 2012.31, 2012.36, 2012.71, 2012.96, 2013.04, 2013.55, 2014.00]

captions = [
    "(a) Hawkes point process with exponentially\ndecaying trigger density",
    "(b) Hawkes point process with power-law decaying\ntrigger density",
    "(c) Recursive point process",
    "(d) SEIR",
]

W, H = 1135, 859
fig = plt.figure(figsize=(W / 100, H / 100), dpi=100)


def px_axes(left, top, width, height):
    return fig.add_axes([left / W, 1 - (top + height) / H, width / W, height / H])


def draw_panel(ax, pts, top, knots, red, hi, lo):
    t = np.array([p[0] for p in pts] + list(top))
    u = np.array([p[1] for p in pts] + [0.997] * len(top))
    ax.scatter(t, u, s=3.5, color='black', alpha=0.35, linewidths=0, zorder=2)
    ax.plot(knots, hi, color='#90ee7a', lw=1.0, ls=(0, (4.5, 3)), zorder=3)
    ax.plot(knots, lo, color='#90ee7a', lw=1.0, ls=(0, (4.5, 3)), zorder=3)
    ax.plot(knots, red, color='#f2584a', lw=1.0, zorder=4)
    ax.set_xlim(2009.794, 2014.33)
    ax.set_ylim(-0.05, 1.05)
    ax.set_xticks([2010, 2011, 2012, 2013, 2014])
    ax.set_xticks([2010.5, 2011.5, 2012.5, 2013.5], minor=True)
    ax.set_yticks([0, 0.25, 0.5, 0.75, 1.0])
    ax.set_yticklabels(['0.00', '0.25', '0.50', '0.75', '1.00'])
    ax.set_yticks([0.125, 0.375, 0.625, 0.875], minor=True)
    ax.grid(which='major', color='#ebebeb', lw=1.1, zorder=0)
    ax.grid(which='minor', color='#ebebeb', lw=0.55, zorder=0)
    ax.set_axisbelow(True)
    ax.tick_params(which='major', length=3.5, width=0.8, color='#333333',
                   labelsize=11.5, labelcolor='#4d4d4d', pad=2.5)
    ax.tick_params(which='minor', length=0)
    for sp in ax.spines.values():
        sp.set_color('#999999')
        sp.set_linewidth(1.0)
    ax.set_xlabel(r'$\mathregular{t_k}$', fontsize=12.5, labelpad=1)
    ax.set_ylabel(r'$\mathregular{u_k}$', fontsize=12.5, labelpad=0)


ax_a = px_axes(61, 11, 506, 289)
ax_b = px_axes(635, 12, 509, 287)
ax_c = px_axes(61, 482, 506, 287)
ax_d = px_axes(635, 481, 509, 287)

draw_panel(ax_a, pts_a, top_a, knots_a, red_a, hi_a, lo_a)
draw_panel(ax_b, pts_b, top_b, knots_b, red_b, hi_b, lo_b)
draw_panel(ax_c, pts_c, top_c, knots_c, red_c, hi_c, lo_c)
draw_panel(ax_d, pts_d, top_d, knots_d, red_d, hi_d, lo_d)

cap_kw = dict(family='cmr10', color='black', linespacing=1.9)
fig.text(1 / W, 1 - 343 / H, captions[0], ha='left', va='top', fontsize=19.4, **cap_kw)
# the (b) caption runs past the right edge in the original too
fig.text(578 / W, 1 - 343 / H, captions[1], ha='left', va='top', fontsize=18.5, **cap_kw)
fig.text(296 / W, 1 - 834 / H, captions[2], ha='center', va='center', fontsize=19.4, **cap_kw)
fig.text(855 / W, 1 - 834 / H, captions[3], ha='center', va='center', fontsize=19.4, **cap_kw)

fig.savefig('out.png', dpi=100)
